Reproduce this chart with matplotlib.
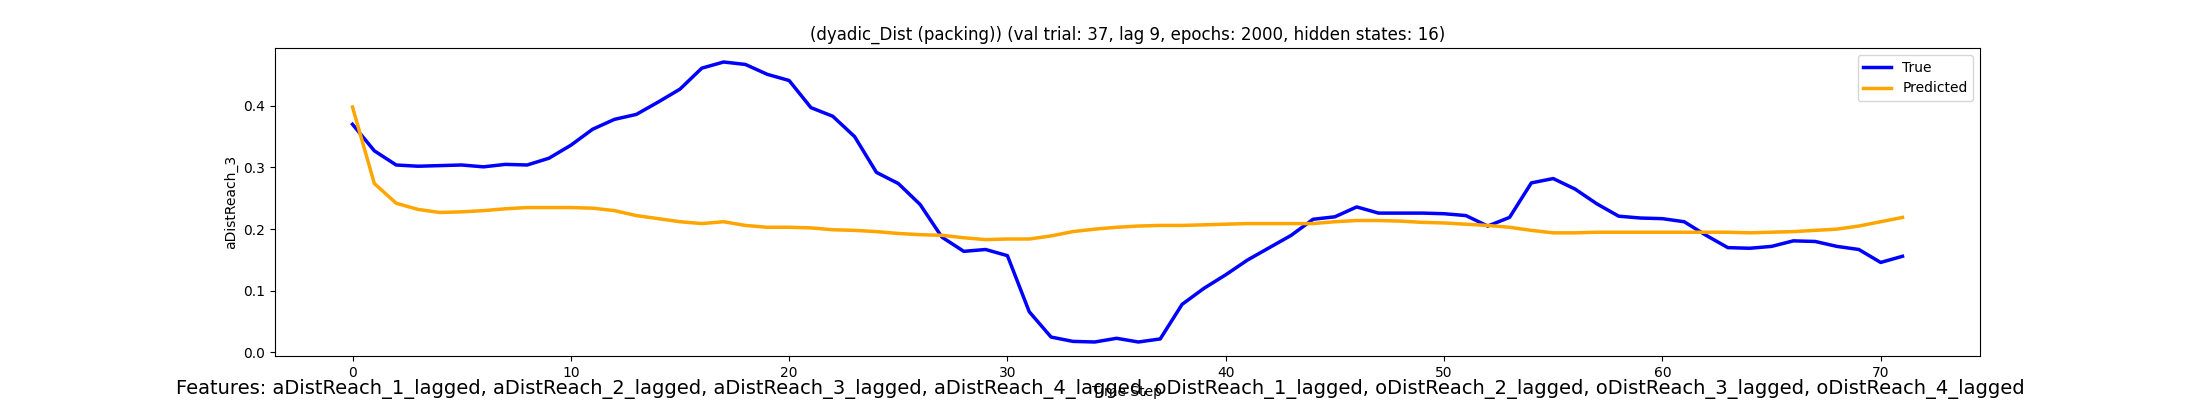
import matplotlib
matplotlib.use('Agg')
import matplotlib.pyplot as plt

# valores
true_vals = [0.370, 0.327, 0.304, 0.302, 0.303, 0.304, 0.301, 0.305, 0.304, 0.315,
             0.336, 0.362, 0.378, 0.386, 0.406, 0.427, 0.461, 0.471, 0.467, 0.451,
             0.441, 0.397, 0.383, 0.350, 0.292, 0.274, 0.240, 0.187, 0.164, 0.167,
             0.157, 0.066, 0.025, 0.018, 0.017, 0.023, 0.017, 0.022, 0.078, 0.104,
             0.126, 0.150, 0.170, 0.190, 0.216, 0.220, 0.236, 0.226, 0.226, 0.226,
             0.225, 0.222, 0.205, 0.219, 0.275, 0.282, 0.265, 0.241, 0.221, 0.218,
             0.217, 0.212, 0.190, 0.170, 0.169, 0.172, 0.181, 0.180, 0.172, 0.167,
             0.146, 0.156]
pred_vals = [0.398, 0.274, 0.242, 0.232, 0.227, 0.228, 0.230, 0.233, 0.235, 0.235,
             0.235, 0.234, 0.230, 0.222, 0.217, 0.212, 0.209, 0.212, 0.206, 0.203,
             0.203, 0.202, 0.199, 0.198, 0.196, 0.193, 0.191, 0.190, 0.186, 0.183,
             0.184, 0.184, 0.189, 0.196, 0.200, 0.203, 0.205, 0.206, 0.206, 0.207,
             0.208, 0.209, 0.209, 0.209, 0.209, 0.212, 0.214, 0.214, 0.213, 0.211,
             0.210, 0.208, 0.206, 0.203, 0.198, 0.194, 0.194, 0.195, 0.195, 0.195,
             0.195, 0.195, 0.195, 0.195, 0.194, 0.195, 0.196, 0.198, 0.200, 0.205,
             0.212, 0.219]
features = ['aDistReach_1_lagged', 'aDistReach_2_lagged', 'aDistReach_3_lagged',
            'aDistReach_4_lagged', 'oDistReach_1_lagged', 'oDistReach_2_lagged',
            'oDistReach_3_lagged', 'oDistReach_4_lagged']

fig, ax = plt.subplots(figsize=(22, 4), dpi=100)
ax.plot(range(len(true_vals)), true_vals, color='blue', linewidth=2.5, label='True')
ax.plot(range(len(pred_vals)), pred_vals, color='orange', linewidth=2.5, label='Predicted')
ax.set_title('(dyadic_Dist (packing)) (val trial: 37, lag 9, epochs: 2000, hidden states: 16)')
ax.set_xlabel('Time Step')
ax.set_ylabel('aDistReach_3')
ax.legend(loc='upper right')
fig.text(0.5, 0.015, 'Features: ' + ', '.join(features), ha='center', fontsize=14)
fig.savefig('out.png')
